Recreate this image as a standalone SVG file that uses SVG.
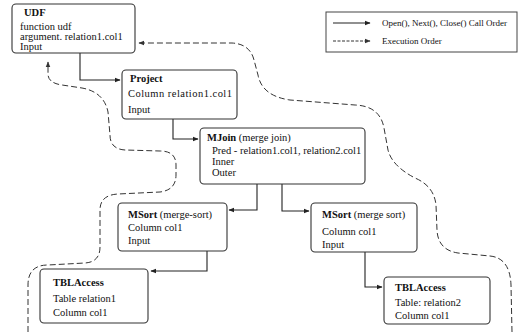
<svg xmlns="http://www.w3.org/2000/svg" width="520" height="332" viewBox="0 0 520 332">
<defs>
<marker id="arr" viewBox="0 0 10 10" refX="9" refY="5" markerWidth="6" markerHeight="6" orient="auto" markerUnits="userSpaceOnUse">
<path d="M0,1 L10,5 L0,9 z" fill="#222"/>
</marker>
<marker id="arrd" viewBox="0 0 10 10" refX="9" refY="5" markerWidth="6" markerHeight="6" orient="auto" markerUnits="userSpaceOnUse">
<path d="M0,1 L10,5 L0,9 z" fill="#333"/>
</marker>
</defs>
<style>
.box{fill:#fff;stroke:#333;stroke-width:1.1}
.t{font-family:"Liberation Serif","Times New Roman",serif;font-size:10.5px;fill:#111}
.b{font-weight:bold}
.lg{font-family:"Liberation Serif","Times New Roman",serif;font-size:9px;fill:#111}
.call{fill:none;stroke:#222;stroke-width:1.1;marker-end:url(#arr)}
.exec{fill:none;stroke:#333;stroke-width:1;stroke-dasharray:6 3;marker-end:url(#arrd)}
</style>
<rect width="520" height="332" fill="#fff"/>

<g id="connectors">
<path class="call" d="M50,47 H80 V80 H120"/>
<path class="call" d="M162,110 H173 V139 H198"/>
<path class="call" d="M245,162 H257 V210 H229"/>
<path class="call" d="M240,172 H282 V211 H309"/>
<path class="call" d="M155,241 H207 V271 H151"/>
<path class="call" d="M348,246 H365 V287 H382"/>
<path class="exec" d="M28,332 L28,285 Q28,265 48,265 L85,263 Q100,262 100,247 L100,210 Q100,195 118,194 L160,192 Q176,190 176,175 L176,165 Q176,151 160,151 L125,150 Q110,149 110,135 L108,112 Q104,92 82,88 L62,85 Q48,83 48,74 L48,62"/>
<path class="exec" d="M512,332 L511,285 Q510,258 490,256 L458,253 Q438,250 437,230 L436,205 Q434,186 415,178 Q392,166 388,150 L384,128 Q380,106 355,105 L290,100 Q262,96 258,75 L254,60 Q250,44 232,43 L139,43"/>
</g>

<g id="legend">
<rect x="326" y="12" width="191" height="40" fill="#fff" stroke="#444" stroke-width="1"/>
<path class="call" d="M333,23 H370"/>
<text class="lg" x="382" y="26">Open(), Next(), Close() Call Order</text>
<path class="exec" d="M333,41 H370" style="stroke-dasharray:3 1.5"/>
<text class="lg" x="382" y="44">Execution Order</text>
</g>

<g id="udf">
<rect class="box" x="12" y="4" width="123" height="49" rx="4"/>
<text class="t b" x="24" y="16">UDF</text>
<text class="t" x="20" y="30">function udf</text>
<text class="t" x="20" y="40">argument. relation1.col1</text>
<text class="t" x="20" y="50">Input</text>
</g>

<g id="project">
<rect class="box" x="122" y="70" width="115" height="49" rx="4"/>
<text class="t b" x="130" y="82">Project</text>
<text class="t" x="128" y="97" textLength="104" lengthAdjust="spacing">Column relation1.col1</text>
<text class="t" x="128" y="113">Input</text>
</g>

<g id="mjoin">
<rect class="box" x="200" y="128" width="165" height="56" rx="4"/>
<text class="t" x="207" y="141"><tspan class="b">MJoin</tspan> (merge join)</text>
<text class="t" x="212" y="154">Pred - relation1.col1, relation2.col1</text>
<text class="t" x="212" y="165">Inner</text>
<text class="t" x="212" y="176">Outer</text>
</g>

<g id="msort1">
<rect class="box" x="118" y="203" width="109" height="48" rx="4"/>
<text class="t" x="128" y="218"><tspan class="b">MSort</tspan> (merge-sort)</text>
<text class="t" x="128" y="231">Column  col1</text>
<text class="t" x="128" y="244">Input</text>
</g>

<g id="msort2">
<rect class="box" x="311" y="203" width="106" height="49" rx="4"/>
<text class="t" x="322" y="218"><tspan class="b">MSort</tspan> (merge sort)</text>
<text class="t" x="322" y="235">Column  col1</text>
<text class="t" x="322" y="248">Input</text>
</g>

<g id="tblaccess1">
<rect class="box" x="40" y="269" width="108" height="54" rx="4"/>
<text class="t b" x="53" y="286">TBLAccess</text>
<text class="t" x="53" y="302">Table relation1</text>
<text class="t" x="53" y="316">Column  col1</text>
</g>

<g id="tblaccess2">
<rect class="box" x="384" y="277" width="106" height="47" rx="4"/>
<text class="t b" x="395" y="291">TBLAccess</text>
<text class="t" x="395" y="306">Table: relation2</text>
<text class="t" x="395" y="319">Column  col1</text>
</g>
</svg>
